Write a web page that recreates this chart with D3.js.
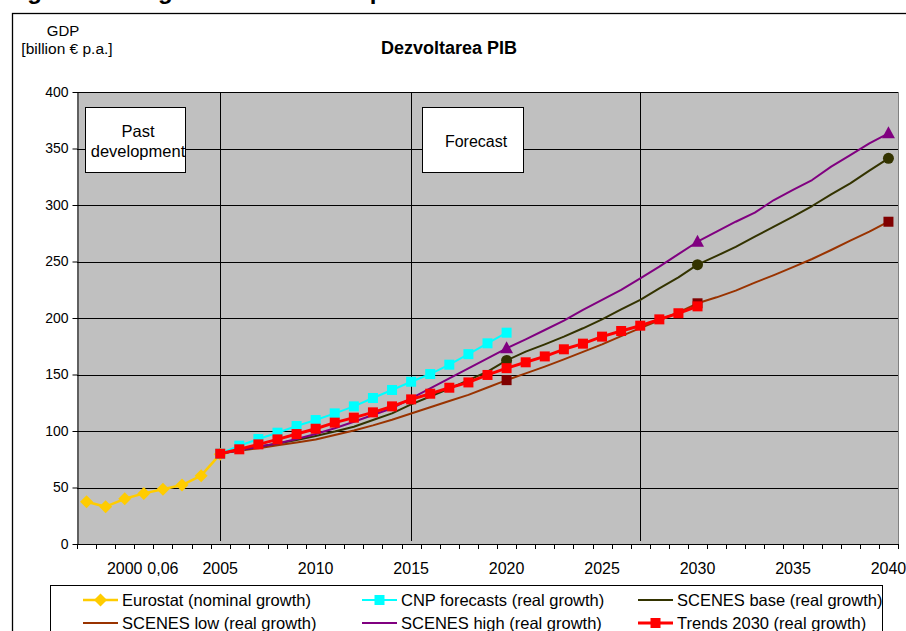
<!DOCTYPE html>
<html>
<head>
<meta charset="utf-8">
<script src="https://cdn.jsdelivr.net/npm/d3@7/dist/d3.min.js"></script>
<style>
  html, body { margin: 0; padding: 0; background: #fff; }
  svg { display: block; font-family: "Liberation Sans", Arial, sans-serif; }
</style>
</head>
<body>
<div id="chart"></div>
<script>
// categories (one per year)
const years = [1998, 1999, 2000, 2001, 2002, 2003, 2004, 2005, 2006, 2007, 2008, 2009,
  2010, 2011, 2012, 2013, 2014, 2015, 2016, 2017, 2018, 2019, 2020, 2021, 2022, 2023,
  2024, 2025, 2026, 2027, 2028, 2029, 2030, 2031, 2032, 2033, 2034, 2035, 2036, 2037,
  2038, 2039, 2040];

// x labels shown under the axis (the odd "0,06" is in the original)
const xLabels = [[2000, '2000'], [2002, '0,06'], [2005, '2005'], [2010, '2010'], [2015, '2015'],
  [2020, '2020'], [2025, '2025'], [2030, '2030'], [2035, '2035'], [2040, '2040']];
const yTicks = [0, 50, 100, 150, 200, 250, 300, 350, 400];
const dividerYears = [2005, 2015, 2027];

// series values, billion EUR
const eurostatStart = 1998;
const eurostat = [37.4, 33, 40, 44.8, 48.4, 52.2, 60.5, 79.5];

const cnpStart = 2005;
const cnp = [79.9, 87, 92.9, 98.5, 104.4, 109.7, 115.6, 121.8, 129.2, 136.3, 143.6, 150.4,
  158.7, 168, 177.6, 187];

const scenesStart = 2005;
const scenesBase = [80, 83, 86, 89, 92, 95.6, 99.5, 103.8, 109.7, 115.6,
  123.5, 130.5, 137.5, 145, 152.5, 162.5, 170.2, 176.7, 183.5, 190.9,
  198.8, 207.6, 216, 226.3, 236, 247.2, 254.9, 263, 272, 280.8,
  289.7, 299.1, 309.4, 319.2, 330.4, 341.3];
const scenesLow = [80, 82.6, 84.7, 87.4, 89.8, 92.4, 96.5, 100.5, 105, 110,
  115.5, 121, 126.5, 132, 138.5, 145, 151, 157, 163.4, 170,
  176.7, 184, 191, 198, 205, 213, 218.3, 224.2, 231.3, 238,
  245, 252.2, 260.2, 268.4, 276.4, 285.2];
const scenesHigh = [80, 83, 86, 89, 93, 97.3, 102.4, 108.2, 114.2, 120.1,
  128.9, 137.8, 146.6, 155.5, 164.3, 173.2, 181.1, 189.4, 197.6, 207.1,
  216, 224.8, 235.1, 245.4, 256.6, 267.5, 276.4, 285.2, 293.2, 304.4,
  313.3, 322.1, 333.9, 344.2, 354.6, 363.4];
const scenesMarkerYears = [2020, 2030, 2040];

const trendsStart = 2005;
const trends = [79.9, 83.8, 88.2, 92.6, 97.3, 102, 107.4, 111.8, 116.5, 121.8,
  128, 133, 138.3, 143, 149.6, 155.6, 160.8, 166, 172.3, 177.3,
  183.5, 188.5, 193.2, 198.8, 204.2, 210.3];

const toPoints = (start, values) => values.map((v, i) => ({ year: start + i, value: v }));

const W = 906, H = 631;
const plot = { left: 77, right: 898, top: 92, bottom: 544 };

const x = d3.scaleBand().domain(years).range([plot.left, plot.right]).paddingInner(0).paddingOuter(0);
const cx = yr => x(yr) + x.bandwidth() / 2;
const y = d3.scaleLinear().domain([0, 400]).range([plot.bottom, plot.top]);

const series = [
  { name: 'Eurostat (nominal growth)', color: '#ffcc00', width: 2.5, marker: 'diamond',
    markerColor: '#ffcc00', data: toPoints(eurostatStart, eurostat) },
  { name: 'CNP forecasts (real growth)', color: '#00ffff', width: 2, marker: 'square',
    markerColor: '#00ffff', data: toPoints(cnpStart, cnp) },
  { name: 'SCENES base (real growth)', color: '#333300', width: 2, marker: 'circle',
    markerColor: '#333300', markerYears: scenesMarkerYears, data: toPoints(scenesStart, scenesBase) },
  { name: 'SCENES low (real growth)', color: '#993300', width: 2, marker: 'square',
    markerColor: '#800000', markerYears: scenesMarkerYears, data: toPoints(scenesStart, scenesLow) },
  { name: 'SCENES high (real growth)', color: '#800080', width: 2, marker: 'triangle',
    markerColor: '#800080', markerYears: scenesMarkerYears, data: toPoints(scenesStart, scenesHigh) },
  { name: 'Trends 2030 (real growth)', color: '#ff0000', width: 3, marker: 'square',
    markerColor: '#ff0000', data: toPoints(trendsStart, trends) },
];

// draw order: scenes first, then history/forecasts on top
const drawOrder = [3, 2, 4, 0, 1, 5];
// legend layout: rows of series indices
const legendRows = [[0, 1, 2], [3, 4, 5]];

const svg = d3.select('#chart').append('svg')
  .attr('width', W)
  .attr('height', H);

// page caption above the chart, cut away by the top edge as in the source
svg.append('text')
  .attr('x', 6)
  .attr('y', -1)
  .style('font-size', '24px')
  .style('font-weight', 'bold')
  .text('Figure 12: Regional GDP development');

// chart frame
svg.append('rect')
  .attr('x', 12.5).attr('y', 13.5)
  .attr('width', 1000).attr('height', 700)
  .style('fill', '#fff')
  .style('stroke', '#000')
  .style('stroke-width', 1.3);

svg.append('text')
  .attr('x', 63).attr('y', 36)
  .style('text-anchor', 'middle')
  .style('font-size', '15px')
  .text('GDP');
svg.append('text')
  .attr('x', 67).attr('y', 54)
  .style('text-anchor', 'middle')
  .style('font-size', '15.5px')
  .text('[billion € p.a.]');

svg.append('text')
  .attr('x', 449).attr('y', 54)
  .style('text-anchor', 'middle')
  .style('font-size', '18px')
  .style('font-weight', 'bold')
  .text('Dezvoltarea PIB');

/* plot area */
svg.append('rect')
  .attr('x', plot.left).attr('y', plot.top)
  .attr('width', plot.right - plot.left).attr('height', plot.bottom - plot.top)
  .style('fill', '#c0c0c0');

svg.append('g')
  .attr('class', 'grid')
  .selectAll('line')
  .data(yTicks.filter(d => d > 0))
  .enter().append('line')
  .attr('x1', plot.left).attr('x2', plot.right)
  .attr('y1', d => Math.round(y(d)) + 0.5).attr('y2', d => Math.round(y(d)) + 0.5)
  .style('stroke', '#000')
  .style('stroke-width', 1);

svg.append('line')
  .attr('x1', plot.right + 0.5).attr('x2', plot.right + 0.5)
  .attr('y1', plot.top).attr('y2', plot.bottom)
  .style('stroke', '#808080');

svg.append('g')
  .attr('class', 'dividers')
  .selectAll('line')
  .data(dividerYears)
  .enter().append('line')
  .attr('x1', d => Math.round(cx(d)) + 0.5).attr('x2', d => Math.round(cx(d)) + 0.5)
  .attr('y1', plot.top).attr('y2', plot.bottom - 3)
  .style('stroke', '#000')
  .style('stroke-width', 1);

/* annotation boxes */
const notes = [
  { lines: ['Past', 'development'], left: 85, top: 107, w: 100, h: 65, cxText: 138, fs: 16.5, dy: [137, 157] },
  { lines: ['Forecast'], left: 422, top: 107, w: 101, h: 65, cxText: 476, fs: 16, dy: [147] },
];
const note = svg.append('g').attr('class', 'notes')
  .selectAll('g').data(notes).enter().append('g');
note.append('rect')
  .attr('x', d => d.left + 0.5).attr('y', d => d.top + 0.5)
  .attr('width', d => d.w).attr('height', d => d.h)
  .style('fill', '#fff')
  .style('stroke', '#000')
  .style('stroke-width', 1);
note.each(function(d) {
  d3.select(this).selectAll('text').data(d.lines).enter().append('text')
    .attr('x', d.cxText)
    .attr('y', (t, i) => d.dy[i])
    .style('text-anchor', 'middle')
    .style('font-size', d.fs + 'px')
    .text(t => t);
});

/* axes */
const yAxis = d3.axisLeft(y)
  .tickValues(yTicks)
  .tickSizeInner(5)
  .tickSizeOuter(0)
  .tickPadding(4);
const yG = svg.append('g')
  .attr('class', 'y axis')
  .attr('transform', `translate(${plot.left + 0.5},0)`)
  .call(yAxis);
yG.select('.domain').style('stroke', '#000');
yG.selectAll('text').style('font-size', '14px').style('fill', '#000').style('font-family', 'Liberation Sans, Arial, sans-serif');

// x axis: ticks on category boundaries, labels in the middle of the category
const xG = svg.append('g').attr('class', 'x axis');
xG.append('line')
  .attr('x1', plot.left).attr('x2', plot.right + 1)
  .attr('y1', plot.bottom + 0.5).attr('y2', plot.bottom + 0.5)
  .style('stroke', '#000');
xG.selectAll('.tick')
  .data(years.concat(['end']))
  .enter().append('line')
  .attr('class', 'tick')
  .attr('x1', d => d === 'end' ? plot.right + 0.5 : Math.round(x(d)) + 0.5)
  .attr('x2', d => d === 'end' ? plot.right + 0.5 : Math.round(x(d)) + 0.5)
  .attr('y1', plot.bottom)
  .attr('y2', plot.bottom + 5)
  .style('stroke', '#000');
xG.selectAll('.label')
  .data(xLabels)
  .enter().append('text')
  .attr('class', 'label')
  .attr('x', d => cx(d[0]))
  .attr('y', 574)
  .style('text-anchor', 'middle')
  .style('font-size', '16px')
  .text(d => d[1]);

/* series */
function marker(sel, type, color) {
  if (type === 'diamond') {
    sel.append('path').attr('d', 'M0,-6.5L6.5,0L0,6.5L-6.5,0Z').style('fill', color);
  } else if (type === 'square') {
    sel.append('rect').attr('x', -5).attr('y', -5).attr('width', 10).attr('height', 10).style('fill', color);
  } else if (type === 'circle') {
    sel.append('circle').attr('r', 5.5).style('fill', color);
  } else if (type === 'triangle') {
    sel.append('path').attr('d', 'M0,-7L6.5,5L-6.5,5Z').style('fill', color);
  }
}

const line = d3.line()
  .x(d => cx(d.year))
  .y(d => y(d.value));

const seriesG = svg.append('g').attr('class', 'series');
drawOrder.forEach(i => {
  const s = series[i];
  const g = seriesG.append('g');
  g.append('path')
    .attr('d', line(s.data))
    .style('fill', 'none')
    .style('stroke', s.color)
    .style('stroke-width', s.width)
    .style('stroke-linejoin', 'round');
  const pts = s.markerYears ? s.data.filter(d => s.markerYears.includes(d.year)) : s.data;
  g.selectAll('.pt').data(pts).enter().append('g')
    .attr('class', 'pt')
    .attr('transform', d => `translate(${cx(d.year)},${y(d.value)})`)
    .each(function() { marker(d3.select(this), s.marker, s.markerColor); });
});

/* legend */
const legendBox = svg.append('g').attr('class', 'legend');
legendBox.append('rect')
  .attr('x', 50.5).attr('y', 585.5)
  .attr('width', 832).attr('height', 80)
  .style('fill', '#fff')
  .style('stroke', '#000')
  .style('stroke-width', 1);
const colX = [83, 362, 638];
const rowY = [600, 623];
legendRows.forEach((row, r) => {
  row.forEach((si, c) => {
    const s = series[si];
    const item = legendBox.append('g')
      .attr('transform', `translate(${colX[c]},${rowY[r]})`);
    item.append('line')
      .attr('x1', 0).attr('x2', 35)
      .attr('y1', 0).attr('y2', 0)
      .style('stroke', s.color)
      .style('stroke-width', s.width);
    if (!s.markerYears) {
      marker(item.append('g').attr('transform', 'translate(17.5,0)'), s.marker, s.markerColor);
    }
    item.append('text')
      .attr('x', 39)
      .attr('y', 6)
      .style('font-size', '16.5px')
      .text(s.name);
  });
});
</script>
</body>
</html>
